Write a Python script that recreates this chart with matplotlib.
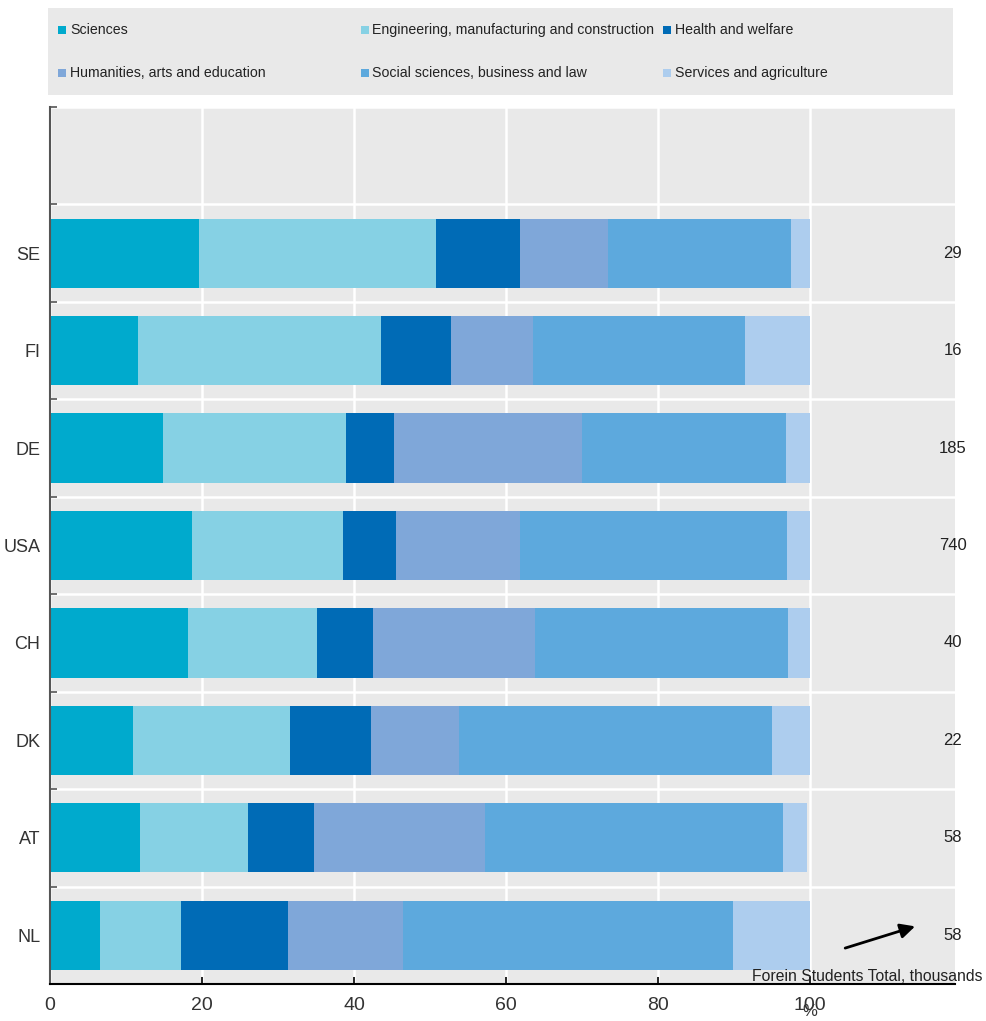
import numpy as np
import matplotlib
matplotlib.use("Agg")
from matplotlib import pyplot as plt
from matplotlib.patches import Rectangle
import matplotlib.transforms as mtransforms

plt.rcParams['font.family'] = ['Liberation Sans', 'DejaVu Sans']

# data (bottom -> top)
countries = ["NL", "AT", "DK", "CH", "USA", "DE", "FI", "SE"]
fields = ["Sciences", "Engineering, manufacturing and construction", "Health and welfare",
          "Humanities, arts and education", "Social sciences, business and law", "Services and agriculture"]
sciences = [6.6, 11.9, 10.9, 18.1, 18.7, 14.9, 11.6, 19.6]
engineering = [10.6, 14.1, 20.7, 17.0, 19.8, 24.0, 32.0, 31.2]
health = [14.1, 8.7, 10.6, 7.4, 7.0, 6.4, 9.2, 11.0]
humanities = [15.1, 22.6, 11.6, 21.3, 16.4, 24.7, 10.8, 11.6]
social = [43.5, 39.1, 41.2, 33.3, 35.1, 26.8, 27.9, 24.1]
services = [10.1, 3.2, 5.0, 2.9, 3.0, 3.2, 8.5, 2.5]
totals = [58, 58, 22, 40, 740, 185, 16, 29]

colors = ["#00aacd", "#86d1e4", "#006bb6", "#7fa7d9", "#5da9dd", "#adcdee"]
bg = "#e9e9e9"

fig = plt.figure(figsize=(9.86, 10.21), dpi=100)
ax = fig.add_axes([50/986, 37/1021, 905/986, 877/1021])
ax.set_facecolor(bg)

y = np.arange(len(countries))
left = np.zeros(len(countries))
for vals, c in zip([sciences, engineering, health, humanities, social, services], colors):
    ax.barh(y, vals, left=left, height=0.71, color=c, linewidth=0, zorder=2)
    left = left + np.array(vals)

ax.set_xlim(0, 119.1)
ax.set_ylim(-0.5, 8.5)
ax.set_xticks([0, 20, 40, 60, 80, 100])
ax.set_yticks(y)
ax.set_yticklabels(countries)
ax.set_yticks(np.arange(-0.5, 8.6, 1), minor=True)
ax.set_axisbelow(True)
ax.grid(axis='x', which='major', color='white', linewidth=1.8)
ax.grid(axis='y', which='minor', color='white', linewidth=1.8)

ax.tick_params(axis='y', which='major', length=0, pad=7, labelsize=13, labelcolor='#333333')
ax.tick_params(axis='y', which='minor', length=5, direction='in', color='#555555', width=1.2)
ax.tick_params(axis='x', direction='in', length=5, width=1.2, labelsize=14, pad=9, labelcolor='#333333')

for s in ['top', 'right']:
    ax.spines[s].set_visible(False)
ax.spines['left'].set_color('#555555')
ax.spines['left'].set_linewidth(1.5)
ax.spines['bottom'].set_color('black')
ax.spines['bottom'].set_linewidth(1.5)

# totals
for yi, t in zip(y, totals):
    ax.text(118.8, yi, str(t), ha='center', va='center', fontsize=12, color='#222222', clip_on=False)

ax.text(107.5, -0.42, "Forein Students Total, thousands", ha='center', va='center',
        fontsize=11.3, color='#222222', clip_on=False, zorder=5)
ax.annotate("", xy=(114.2, 0.1), xytext=(104.3, -0.14),
            arrowprops=dict(arrowstyle='-|>', color='black', lw=2, mutation_scale=22))

trans = mtransforms.blended_transform_factory(ax.transData, ax.transAxes)
ax.text(100, -0.031, "%", ha='center', va='center', fontsize=12, color='#333333', transform=trans)

# legend box
fig.patches.append(Rectangle((48/986, (1021-95)/1021), 905/986, 87/1021,
                             transform=fig.transFigure, facecolor=bg, edgecolor='none'))
for i, (name, c) in enumerate(zip(fields, colors)):
    row, col = divmod(i, 3)
    px = 58 + col * 302.5
    py = 30 + row * 43
    fig.patches.append(Rectangle((px/986, (1021 - py - 4)/1021), 8/986, 8/1021,
                                 transform=fig.transFigure, facecolor=c, edgecolor='none'))
    fig.text((px + 12)/986, (1021 - py)/1021, name, ha='left', va='center',
             fontsize=10.2, color='#222222')

plt.savefig("out.png", dpi=100)
